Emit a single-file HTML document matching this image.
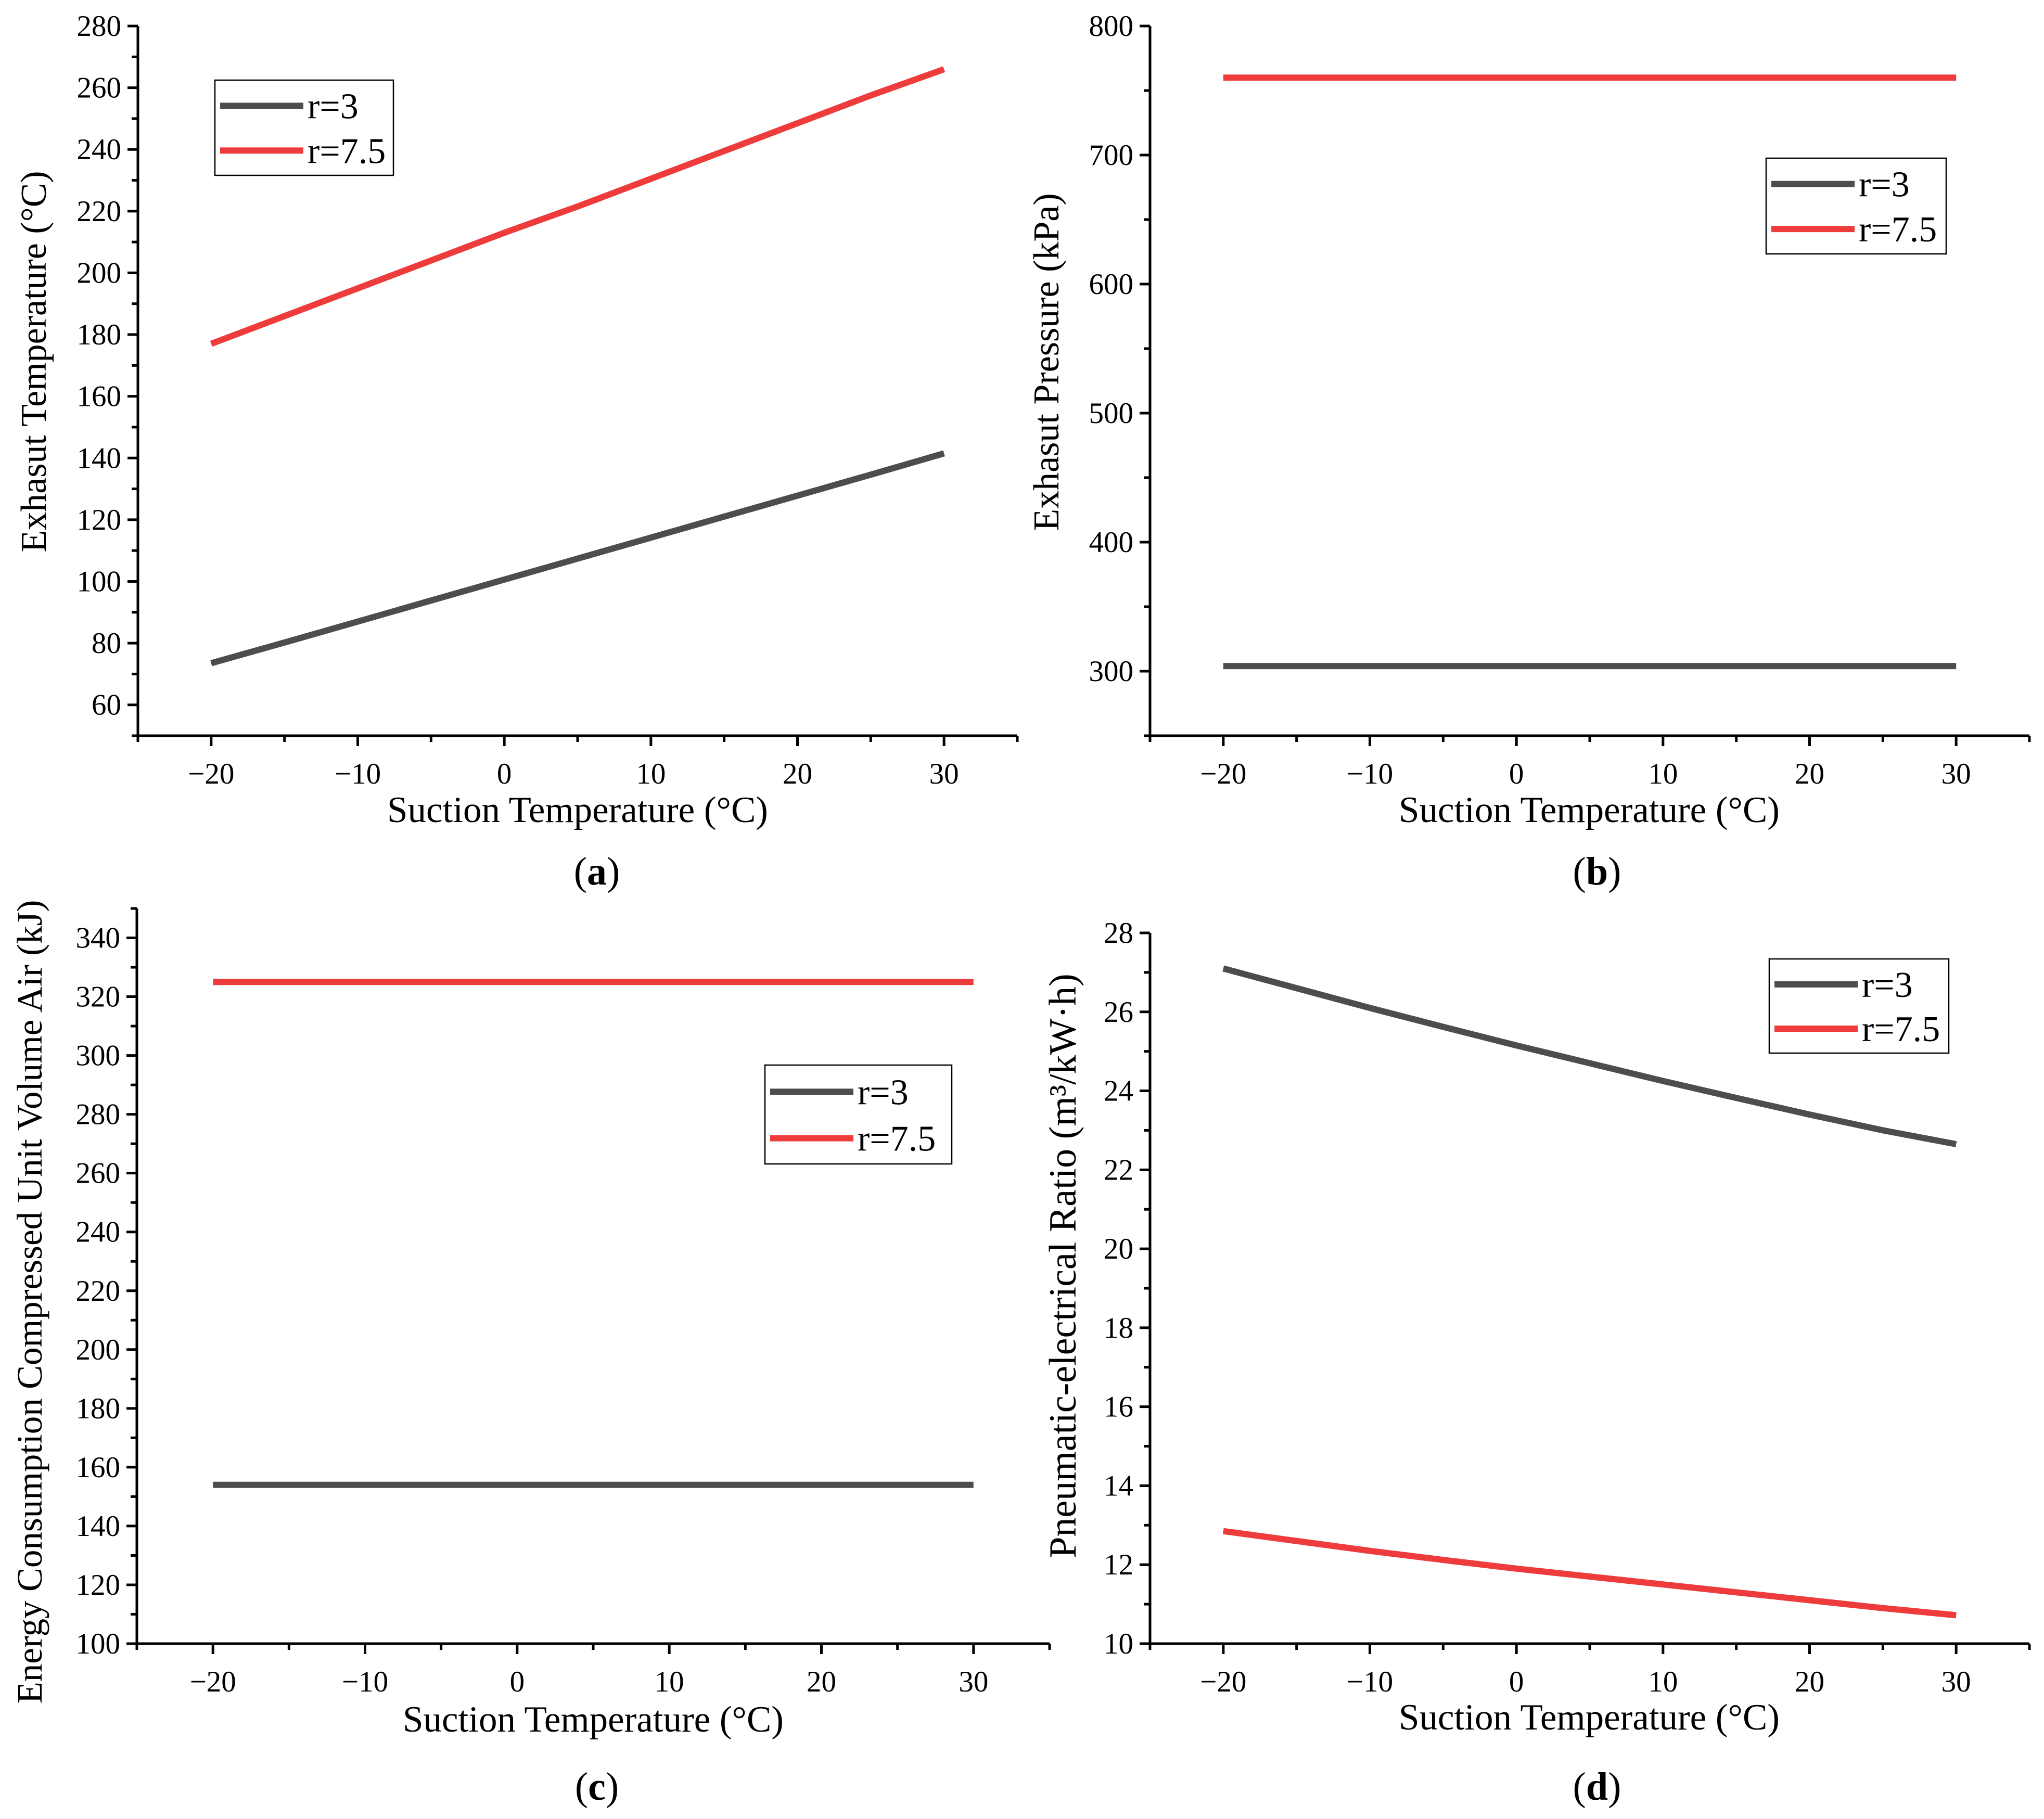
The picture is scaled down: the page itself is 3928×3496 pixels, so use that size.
<!DOCTYPE html>
<html><head><meta charset="utf-8">
<style>
html,body{margin:0;padding:0;background:#fff;}
svg{display:block;font-family:"Liberation Serif","DejaVu Serif",serif;}
</style></head>
<body>
<svg id="fig" width="3928" height="3496" viewBox="0 0 3928 3496" xmlns="http://www.w3.org/2000/svg"></svg>
<script>
// ---- data ----
const xCats = [-20, -15, -10, -5, 0, 5, 10, 15, 20, 25, 30];
const xTicks = [-20, -10, 0, 10, 20, 30];
const xTickLabels = ["\u221220", "\u221210", "0", "10", "20", "30"];

const aR3 = [73.5, 80.2, 87.0, 93.8, 100.6, 107.4, 114.2, 121.0, 127.8, 134.6, 141.5];
const aR75 = [177, 186, 195, 204, 213, 221.5, 230.5, 239.5, 248.5, 257.5, 266];
const aYTicks = [60, 80, 100, 120, 140, 160, 180, 200, 220, 240, 260, 280];

const bR3 = [304, 304, 304, 304, 304, 304, 304, 304, 304, 304, 304];
const bR75 = [760, 760, 760, 760, 760, 760, 760, 760, 760, 760, 760];
const bYTicks = [300, 400, 500, 600, 700, 800];

const cR3 = [154, 154, 154, 154, 154, 154, 154, 154, 154, 154, 154];
const cR75 = [325, 325, 325, 325, 325, 325, 325, 325, 325, 325, 325];
const cYTicks = [100, 120, 140, 160, 180, 200, 220, 240, 260, 280, 300, 320, 340];

const dR3 = [27.1, 26.6, 26.1, 25.62, 25.15, 24.7, 24.25, 23.82, 23.4, 23.0, 22.65];
const dR75 = [12.85, 12.6, 12.35, 12.12, 11.9, 11.7, 11.5, 11.3, 11.1, 10.9, 10.72];
const dYTicks = [10, 12, 14, 16, 18, 20, 22, 24, 26, 28];

const seriesNames = ["r=3", "r=7.5"];

// ---- drawing ----
const NS = "http://www.w3.org/2000/svg";
const svg = document.getElementById("fig");
function mk(tag, attrs, parent) {
  const e = document.createElementNS(NS, tag);
  for (const k in attrs) e.setAttribute(k, attrs[k]);
  (parent || svg).appendChild(e);
  return e;
}
const GRAY = "#4d4d4d", RED = "#ee3b3b";

function panel(p) {
  const g = mk("g", {});
  
  
  const xs = v => p.x0 + (v - p.xmin) / (p.xmax - p.xmin) * (p.x1 - p.x0);
  const ys = v => p.y0 - (v - p.ymin) / (p.ymax - p.ymin) * (p.y0 - p.y1);
  const ax = mk("line", {x1: p.x0, y1: p.y0, x2: p.x1, y2: p.y0, stroke: "#000", "stroke-width": 5}, g);
  
  
  const ay = mk("line", {x1: p.x0, y1: p.y0 + 2, x2: p.x0, y2: p.y1, stroke: "#000", "stroke-width": 5}, g);
  
  
  for (let v = p.xmin; v <= p.xmax + 0.001; v += 5) {
    const major = (v % 10 === 0);
    mk("line", {x1: xs(v), y1: p.y0, x2: xs(v), y2: p.y0 + (major ? 20 : 12), stroke: "#000", "stroke-width": 5}, g);
  }
  xTicks.forEach((v, i) => {
    const t = mk("text", {x: xs(v), y: p.y0 + 92, "text-anchor": "middle", "font-size": 57}, g);
    t.textContent = xTickLabels[i];
    
    
  });
  const step = p.yTicks[1] - p.yTicks[0];
  for (let v = p.yTicks[0] - step / 2 * Math.ceil((p.yTicks[0] - p.ymin) / (step / 2)); v <= p.ymax + 1e-6; v += step / 2) {
    if (v < p.ymin - 1e-6) continue;
    const major = p.yTicks.some(t => Math.abs(t - v) < 1e-6);
    mk("line", {x1: p.x0, y1: ys(v), x2: p.x0 - (major ? 20 : 12), y2: ys(v), stroke: "#000", "stroke-width": 5}, g);
  }
  p.yTicks.forEach(v => {
    const t = mk("text", {x: p.x0 - 32, y: ys(v) + 19, "text-anchor": "end", "font-size": 57}, g);
    t.textContent = String(v);
    
    
  });
  [[p.s1, GRAY, "series-r3"], [p.s2, RED, "series-r7-5"]].forEach(([arr, col, nm]) => {
    const pts = xCats.map((x, i) => xs(x).toFixed(1) + "," + ys(arr[i]).toFixed(1)).join(" ");
    const pl = mk("polyline", {points: pts, fill: "none", stroke: col, "stroke-width": 12}, g);
    
    
  });
  const xt = mk("text", {x: p.xtX, y: p.xtY, "text-anchor": "middle", "font-size": 71}, g);
  xt.textContent = "Suction Temperature (\u00B0C)";
  
  
  const yt = mk("text", {x: 0, y: 0, "text-anchor": "middle", "font-size": p.ytSize || 70, transform: "translate(" + p.ytX + "," + p.ytY + ") rotate(-90)"}, g);
  yt.textContent = p.ytitle;
  
  
  const lg = mk("g", {}, g);
  
  
  const L = p.leg;
  mk("rect", {x: L[0], y: L[1], width: L[2] - L[0], height: L[3] - L[1], fill: "#fff", stroke: "#000", "stroke-width": 2.5}, lg);
  const h = (L[3] - L[1]);
  [GRAY, RED].forEach((col, i) => {
    const cy = L[1] + h * (i === 0 ? 0.27 : 0.74);
    mk("line", {x1: L[0] + 10, y1: cy, x2: L[0] + 170, y2: cy, stroke: col, "stroke-width": 12}, lg);
    const t = mk("text", {x: L[0] + 178, y: cy + 24, "font-size": 70}, lg);
    t.textContent = seriesNames[i];
    
    
  });
  const pl = mk("text", {x: p.lab[0], y: p.lab[1], "text-anchor": "middle", "font-size": 76}, g);
  pl.innerHTML = '(<tspan font-weight="bold">' + p.letter + '</tspan>)';
  
  
}

panel({name: "panel-a", x0: 265, x1: 1955, y0: 1414, y1: 50, xmin: -25, xmax: 35, ymin: 50, ymax: 280,
  yTicks: aYTicks, s1: aR3, s2: aR75, xtX: 1110, xtY: 1580, ytX: 88, ytY: 695,
  ytitle: "Exhasut Temperature (\u00B0C)", leg: [413, 154, 756, 337], lab: [1147, 1700], letter: "a"});
panel({name: "panel-b", x0: 2210, x1: 3900, y0: 1414, y1: 50, xmin: -25, xmax: 35, ymin: 250, ymax: 800,
  yTicks: bYTicks, s1: bR3, s2: bR75, xtX: 3054, xtY: 1580, ytX: 2034, ytY: 696,
  ytitle: "Exhasut Pressure (kPa)", leg: [3394, 304, 3740, 488], lab: [3069, 1700], letter: "b"});
panel({name: "panel-c", x0: 263, x1: 2017, y0: 3159, y1: 1746, xmin: -25, xmax: 35, ymin: 100, ymax: 350,
  yTicks: cYTicks, s1: cR3, s2: cR75, xtX: 1140, xtY: 3328, ytX: 80, ytY: 2502, ytSize: 69,
  ytitle: "Energy Consumption Compressed Unit Volume Air (kJ)", leg: [1470, 2047, 1829, 2237], lab: [1147, 3459], letter: "c"});
panel({name: "panel-d", x0: 2210, x1: 3900, y0: 3159, y1: 1793, xmin: -25, xmax: 35, ymin: 10, ymax: 28,
  yTicks: dYTicks, s1: dR3, s2: dR75, xtX: 3054, xtY: 3324, ytX: 2067, ytY: 2433, ytSize: 74,
  ytitle: "Pneumatic-electrical Ratio (m\u00B3/kW\u00B7h)", leg: [3400, 1843, 3745, 2024], lab: [3069, 3459], letter: "d"});
</script>
</body></html>
